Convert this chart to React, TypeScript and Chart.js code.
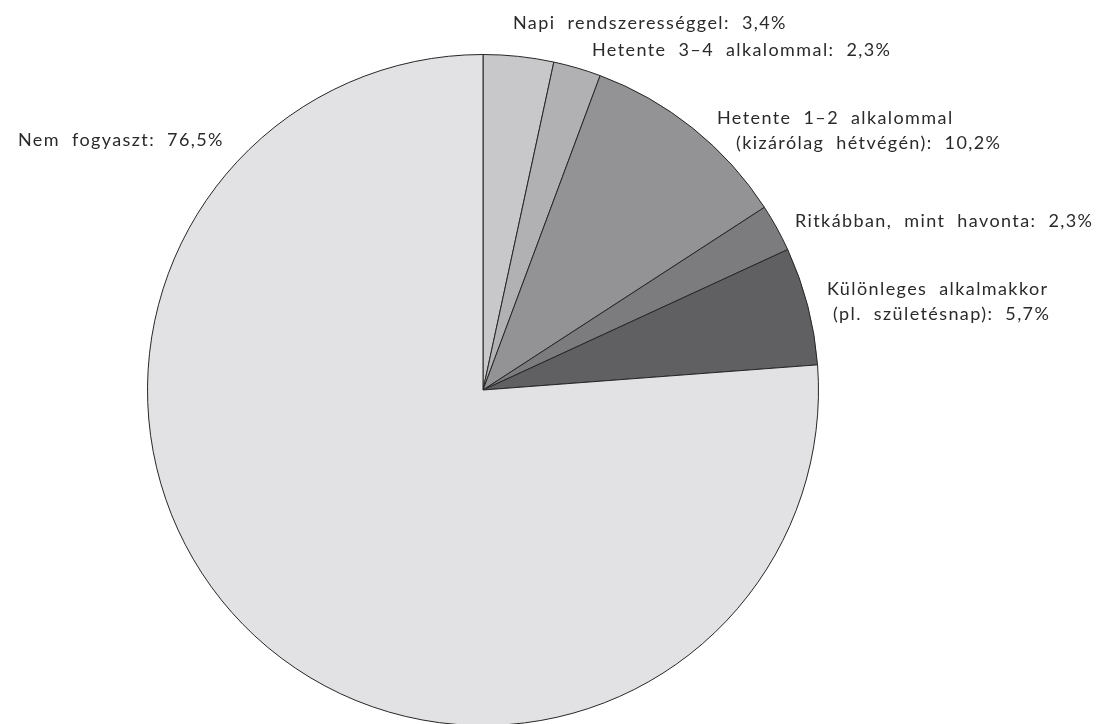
import React, { useEffect, useRef } from "react";
import { Chart, registerables } from "chart.js";

Chart.register(...registerables);

const categories = [
  "Napi rendszerességgel",
  "Hetente 3–4 alkalommal",
  "Hetente 1–2 alkalommal (kizárólag hétvégén)",
  "Ritkábban, mint havonta",
  "Különleges alkalmakkor (pl. születésnap)",
  "Nem fogyaszt",
];
const values = [3.4, 2.3, 10.2, 2.3, 5.7, 76.5];
const labelLines = [
  ["Napi rendszerességgel: 3,4%"],
  ["Hetente 3–4 alkalommal: 2,3%"],
  ["Hetente 1–2 alkalommal", "(kizárólag hétvégén): 10,2%"],
  ["Ritkábban, mint havonta: 2,3%"],
  ["Különleges alkalmakkor", "(pl. születésnap): 5,7%"],
  ["Nem fogyaszt: 76,5%"],
];
const colors = ["#c8c8ca", "#b1b1b3", "#939396", "#7c7c7e", "#606062", "#e2e2e4"];
// label anchor (left, baseline of first line) relative to the pie centre, in px
const labelOffsets = [
  [30, -361],
  [109, -334],
  [234, -266],
  [312, -163],
  [344, -95],
  [-465, -244],
];
const secondLineIndent = [0, 0, 19, 0, 6, 0];

const labelPlugin = {
  id: "outerLabels",
  afterDraw(chart: any) {
    const meta = chart.getDatasetMeta(0);
    const arc = meta.data[0];
    if (!arc) return;
    const cx = arc.x;
    const cy = arc.y;
    const ctx = chart.ctx;
    ctx.save();
    ctx.fillStyle = "#2a2a2a";
    ctx.font = "18px Lato";
    (ctx as any).wordSpacing = "6px";
    (ctx as any).letterSpacing = "1.4px";
    ctx.textAlign = "left";
    ctx.textBaseline = "alphabetic";
    labelLines.forEach((lines, i) => {
      const [ox, oy] = labelOffsets[i];
      lines.forEach((line, j) => {
        const x = cx + ox + (j > 0 ? secondLineIndent[i] : 0);
        const y = cy + oy + j * 25;
        ctx.fillText(line, x, y);
      });
    });
    ctx.restore();
  },
};

export default function App() {
  const ref = useRef<HTMLCanvasElement>(null);
  useEffect(() => {
    if (!ref.current) return;
    const chart = new Chart(ref.current, {
      type: "pie",
      data: {
        labels: categories,
        datasets: [
          {
            data: values,
            backgroundColor: colors,
            borderColor: "#262626",
            borderWidth: 1,
          },
        ],
      },
      options: {
        animation: false,
        responsive: false,
        layout: { padding: { left: 147, right: 289, top: 54, bottom: 14 } },
        plugins: {
          legend: { display: false },
          tooltip: { enabled: false },
        },
      },
      plugins: [labelPlugin],
    });
    return () => chart.destroy();
  }, []);
  return (
    <div style={{ position: "fixed", left: 0, top: 0, width: 1108, height: 740, background: "#fff" }}>
      <canvas ref={ref} width={1108} height={740} style={{ width: 1108, height: 740 }} />
    </div>
  );
}
